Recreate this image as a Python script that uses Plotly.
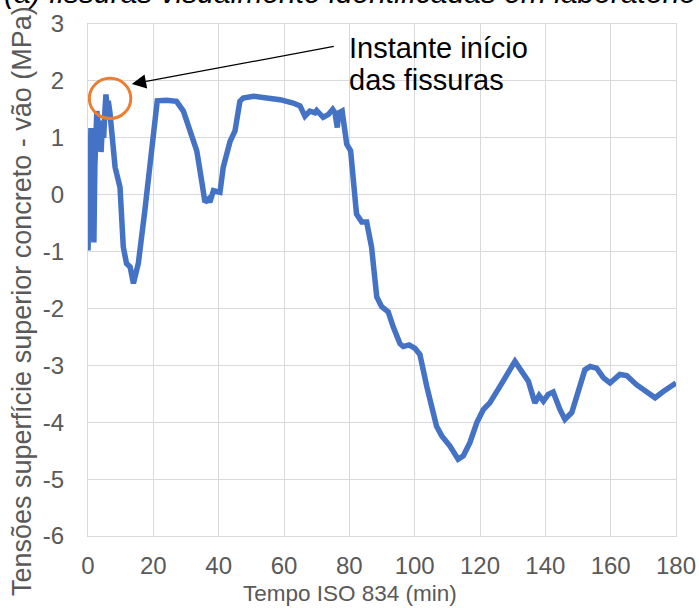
import plotly.graph_objects as go

# ============================================================
# Data
# ============================================================
tempo_min = [
    0.0, 0.3, 0.6, 0.9, 1.2, 1.5, 1.8, 2.1, 2.4, 2.7, 3.0, 3.3, 3.6, 4.0,
    4.4, 4.8, 5.2, 5.5, 5.8, 6.2, 6.7, 7.2, 8.3, 9.8, 10.8, 11.8, 12.9,
    13.9, 15.4, 17.4, 19.0, 20.5, 21.2, 24.0, 27.1, 29.2, 31.2, 33.3, 34.8,
    35.8, 36.8, 37.3, 38.4, 40.4, 41.4, 43.5, 45.0, 46.5, 47.5, 50.6, 54.7,
    58.8, 62.8, 64.9, 66.4, 67.9, 69.5, 70.0, 72.0, 73.6, 74.9, 75.6, 76.3,
    76.8, 77.8, 78.4, 79.2, 80.4, 81.2, 82.2, 83.8, 85.3, 86.8, 88.4, 89.9,
    91.9, 93.4, 95.5, 96.5, 98.3, 100.1, 101.6, 103.7, 106.7, 108.3, 110.8,
    113.3, 114.9, 116.9, 119.0, 121.0, 123.0, 126.1, 130.7, 134.8, 135.8,
    136.8, 138.1, 139.4, 140.9, 142.4, 144.5, 146.0, 148.1, 150.1, 152.1,
    153.7, 155.7, 157.8, 159.8, 162.8, 164.9, 167.9, 171.0, 173.6, 176.1,
    178.7, 180.0,
]
tensao_mpa = [
    -0.98, 0.2, 1.0, 1.17, 0.9, -0.3, -0.84, 0.5, 1.2, 1.47, 1.3, 0.9, 1.3,
    0.75, 1.2, 1.0, 1.5, 1.76, 1.55, 1.65, 1.45, 1.18, 0.48, 0.13, -0.92,
    -1.21, -1.27, -1.56, -1.21, -0.28, 0.59, 1.41, 1.65, 1.66, 1.64, 1.47,
    1.12, 0.77, 0.24, -0.13, -0.08, -0.13, 0.07, 0.04, 0.48, 0.94, 1.12,
    1.64, 1.70, 1.73, 1.70, 1.67, 1.61, 1.56, 1.38, 1.47, 1.44, 1.48, 1.36,
    1.41, 1.50, 1.44, 1.18, 1.44, 1.47, 1.18, 0.89, 0.77, 0.24, -0.34,
    -0.48, -0.48, -0.92, -1.80, -1.97, -2.06, -2.32, -2.62, -2.67, -2.64,
    -2.70, -2.81, -3.37, -4.07, -4.24, -4.42, -4.65, -4.59, -4.36, -4.01,
    -3.78, -3.66, -3.37, -2.93, -3.28, -3.48, -3.66, -3.53, -3.63, -3.51,
    -3.47, -3.78, -3.95, -3.83, -3.48, -3.08, -3.02, -3.05, -3.22, -3.31,
    -3.16, -3.18, -3.34, -3.46, -3.57, -3.46, -3.34, -3.31,
]

x_ticks = [0, 20, 40, 60, 80, 100, 120, 140, 160, 180]
y_ticks = [-6, -5, -4, -3, -2, -1, 0, 1, 2, 3]
y_ticktext = ["-6", "-5", "-4", "-3", "-2", "-1", "0", "1", "2", "3"]

# circle marking the first cracks (min / MPa)
circulo_x = [0.4, 13.1]
circulo_y = [1.34, 2.045]

GRID = "#d9d9d9"
TXT = "#595959"
FONT = "Liberation Sans, Arial, sans-serif"

fig = go.Figure()
fig.add_trace(
    go.Scatter(
        x=tempo_min,
        y=tensao_mpa,
        mode="lines",
        line=dict(color="#4472C4", width=5.5),
        showlegend=False,
    )
)

fig.add_shape(
    type="circle",
    xref="x", yref="y",
    x0=circulo_x[0], x1=circulo_x[1],
    y0=circulo_y[0], y1=circulo_y[1],
    line=dict(color="#ED7D31", width=3),
)

# arrow from the label to the circle
fig.add_annotation(
    x=13.4, y=1.945, xref="x", yref="y",
    ax=75.7, ay=2.61, axref="x", ayref="y",
    text="", showarrow=True,
    arrowhead=2, arrowsize=2.2, arrowwidth=1.3, arrowcolor="black",
)
for linha, yv in [("Instante início", 2.578), ("das fissuras", 2.015)]:
    fig.add_annotation(
        x=79.2, y=yv, xref="x", yref="y",
        text=linha, showarrow=False, xanchor="left", yanchor="middle",
        font=dict(family=FONT, size=29, color="black"),
    )

# cropped panel title
fig.add_annotation(
    x=0.445, y=1, xref="paper", yref="paper",
    xanchor="center", yanchor="bottom", yshift=13,
    text="<i>(a) fissuras visualmente identificadas em laboratório</i>",
    showarrow=False,
    font=dict(family=FONT, size=30, color="black"),
)

# axis titles, placed by hand (centred on the page rather than the plot)
fig.add_annotation(
    x=0, y=0.459, xref="paper", yref="paper",
    xanchor="center", yanchor="middle", xshift=-66,
    text="Tensões superfície superior concreto - vão (MPa)",
    textangle=-90, showarrow=False,
    font=dict(family=FONT, size=27, color=TXT),
)
fig.add_annotation(
    x=0.445, y=0, xref="paper", yref="paper",
    xanchor="center", yanchor="middle", yshift=-57,
    text="Tempo ISO 834 (min)", showarrow=False,
    font=dict(family=FONT, size=22.5, color=TXT),
)

fig.update_layout(
    width=699, height=608,
    margin=dict(l=88, r=23, t=24, b=72),
    plot_bgcolor="white", paper_bgcolor="white",
    font=dict(family=FONT, size=24, color=TXT),
)
fig.update_xaxes(
    range=[0, 180], tickvals=x_ticks,
    showgrid=True, gridcolor=GRID, gridwidth=1,
    showline=True, linecolor=GRID, mirror=True,
    zeroline=False, ticks="", automargin=False,
    tickfont=dict(size=24, color=TXT), ticklabelstandoff=8,
)
fig.update_yaxes(
    range=[-6, 3], tickvals=y_ticks, ticktext=y_ticktext,
    showgrid=True, gridcolor=GRID, gridwidth=1,
    showline=True, linecolor=GRID, mirror=True,
    zeroline=False, ticks="", automargin=False,
    tickfont=dict(size=24, color=TXT), ticklabelstandoff=18,
)

# the page's default 8px body margin would shift the whole figure
fig.write_html(
    "out.html",
    config={"displayModeBar": False},
    post_script="document.body.style.margin='0px';",
)
